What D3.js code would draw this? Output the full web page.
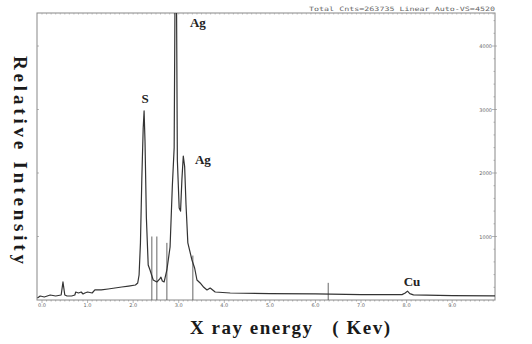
<!DOCTYPE html>
<html>
<head>
<meta charset="utf-8">
<script src="https://cdn.jsdelivr.net/npm/d3@7"></script>
<style>
  html, body { margin: 0; padding: 0; background: #fff; }
  svg { display: block; }
  .tick-label { font-family: 'DejaVu Sans', sans-serif; font-size: 5px; fill: #666; }
  .peak-label { font-family: 'Liberation Serif', serif; font-weight: bold; font-size: 13px; fill: #222; }
  .axis-title { font-family: 'Liberation Serif', serif; font-weight: bold; font-size: 19px; fill: #1a1a1a; white-space: pre; }
  .header { font-family: 'DejaVu Sans Mono', monospace; font-size: 6px; fill: #666; }
</style>
</head>
<body>
<div id="chart"></div>
<script>
// spectrum, energy in keV / counts
const energy = [-0.1, -0.04, 0.05, 0.18, 0.3, 0.42, 0.46, 0.5, 0.55, 0.65, 0.72, 0.74, 0.8, 0.86, 0.9, 0.94,
  1.0, 1.1, 1.16, 1.3, 1.45, 1.6, 1.75, 1.9, 2.05, 2.1, 2.13, 2.16, 2.19, 2.22, 2.24, 2.26, 2.29, 2.33,
  2.37, 2.44, 2.52, 2.58, 2.61, 2.64, 2.68, 2.74, 2.81, 2.86, 2.9, 2.925, 2.945, 2.97, 3.01, 3.04, 3.07, 3.1,
  3.13, 3.16, 3.2, 3.29, 3.35, 3.4, 3.47, 3.55, 3.62, 3.69, 3.8, 4.13, 5.0, 6.0, 7.0, 7.9, 7.97, 8.02,
  8.07, 8.15, 9.0, 9.94];
const counts = [32, 63, 47, 79, 63, 79, 284, 79, 63, 63, 79, 126, 110, 126, 95, 110,
  126, 110, 158, 158, 173, 189, 205, 220, 236, 268, 394, 900, 1900, 2700, 2977, 2500, 1300, 550,
  473, 315, 284, 330, 360, 300, 284, 473, 835, 1800, 2400, 5600, 5600, 2200, 1450, 1400, 1900, 2268,
  2100, 1500, 900, 630, 500, 315, 268, 200, 158, 189, 126, 110, 100, 95, 85, 85, 110, 140,
  100, 80, 70, 65];

// element line markers (keV, counts)
const markerEnergy = [2.41, 2.52, 2.74, 3.31, 6.28];
const markerCounts = [1000, 1000, 900, 700, 270];

const peakLabels = ['S', 'Ag', 'Ag', 'Cu'];
const peakEnergy = [2.26, 3.42, 3.53, 8.12];
const peakCounts = [3100, 4300, 2140, 220];

const xTicks = [0, 1, 2, 3, 4, 5, 6, 7, 8, 9];
const yTicks = [1000, 2000, 3000, 4000];
const header = 'Total Cnts=263735  Linear  Auto-VS=4520';

const width = 532, height = 344;
const m = { left: 37, right: 495, top: 13, bottom: 300 };

const x = d3.scaleLinear().domain([-0.11, 9.94]).range([m.left, m.right]);
const y = d3.scaleLinear().domain([0, 4520]).range([m.bottom, m.top]);

const svg = d3.select('#chart').append('svg')
  .attr('width', width)
  .attr('height', height);

svg.append('defs').append('clipPath').attr('id', 'plot')
  .append('rect')
  .attr('x', m.left).attr('y', m.top)
  .attr('width', m.right - m.left).attr('height', m.bottom - m.top);

// frame
svg.append('rect')
  .attr('x', m.left).attr('y', m.top)
  .attr('width', m.right - m.left).attr('height', m.bottom - m.top)
  .attr('fill', 'none')
  .attr('stroke', '#888')
  .attr('stroke-width', 1);

// minor ticks along top and bottom
const minorX = d3.range(0, 100).map(i => i / 10);
svg.append('g').selectAll('line')
  .data(minorX)
  .join('line')
  .attr('x1', d => x(d)).attr('x2', d => x(d))
  .attr('y1', m.top).attr('y2', m.top + 1.5)
  .attr('stroke', '#999').attr('stroke-width', 0.6);

svg.append('g').selectAll('line')
  .data(minorX)
  .join('line')
  .attr('x1', d => x(d)).attr('x2', d => x(d))
  .attr('y1', m.bottom).attr('y2', d => m.bottom + (Math.abs(d - Math.round(d)) < 1e-6 ? 3 : 1.5))
  .attr('stroke', '#888').attr('stroke-width', 0.6);

svg.append('g').selectAll('text')
  .data(xTicks)
  .join('text')
  .attr('class', 'tick-label')
  .attr('x', d => x(d))
  .attr('y', m.bottom + 6.5)
  .attr('text-anchor', 'middle')
  .text(d => d.toFixed(1));

// right and left axis ticks
const minorY = d3.range(200, 4520, 200);
svg.append('g').selectAll('line')
  .data(minorY)
  .join('line')
  .attr('x1', d => m.right - (d % 1000 === 0 ? 3 : 1.5))
  .attr('x2', d => m.right + (d % 1000 === 0 ? 2 : 0))
  .attr('y1', d => y(d)).attr('y2', d => y(d))
  .attr('stroke', '#888').attr('stroke-width', 0.6);

svg.append('g').selectAll('line')
  .data(yTicks)
  .join('line')
  .attr('x1', m.left).attr('x2', m.left + 2)
  .attr('y1', d => y(d)).attr('y2', d => y(d))
  .attr('stroke', '#888').attr('stroke-width', 0.6);

svg.append('g').selectAll('text')
  .data(yTicks)
  .join('text')
  .attr('class', 'tick-label')
  .attr('x', m.right - 3)
  .attr('y', d => y(d) + 2)
  .attr('text-anchor', 'end')
  .text(d => d);

svg.append('text')
  .attr('class', 'header')
  .attr('x', m.right)
  .attr('y', m.top - 2)
  .attr('text-anchor', 'end')
  .attr('textLength', 186)
  .attr('lengthAdjust', 'spacingAndGlyphs')
  .text(header);

const plot = svg.append('g').attr('clip-path', 'url(#plot)');

// markers
plot.selectAll('line')
  .data(markerEnergy)
  .join('line')
  .attr('x1', d => x(d)).attr('x2', d => x(d))
  .attr('y1', m.bottom)
  .attr('y2', (d, i) => y(markerCounts[i]))
  .attr('stroke', '#555')
  .attr('stroke-width', 0.9);

const line = d3.line()
  .x((d, i) => x(energy[i]))
  .y(d => y(d));

plot.append('path')
  .datum(counts)
  .attr('fill', 'none')
  .attr('stroke', '#333')
  .attr('stroke-width', 1.2)
  .attr('stroke-linejoin', 'round')
  .attr('d', line);

// peak labels
svg.append('g').selectAll('text')
  .data(peakLabels)
  .join('text')
  .attr('class', 'peak-label')
  .attr('x', (d, i) => x(peakEnergy[i]))
  .attr('y', (d, i) => y(peakCounts[i]))
  .attr('text-anchor', 'middle')
  .text(d => d);

// axis titles
svg.append('text')
  .attr('class', 'axis-title')
  .attr('transform', 'translate(14,160) rotate(90)')
  .attr('text-anchor', 'middle')
  .attr('textLength', 208)
  .attr('lengthAdjust', 'spacing')
  .text('Relative Intensity');

svg.append('text')
  .attr('class', 'axis-title')
  .attr('x', 290)
  .attr('y', 334)
  .attr('text-anchor', 'middle')
  .attr('textLength', 200)
  .attr('lengthAdjust', 'spacing')
  .text('X ray energy   ( Kev)');
</script>
</body>
</html>
